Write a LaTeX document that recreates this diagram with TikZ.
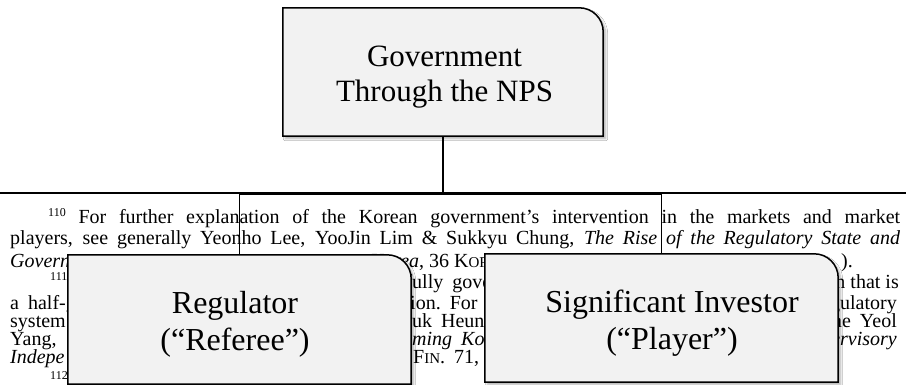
\documentclass[tikz,border=0pt]{standalone}
\usepackage{fontspec}
\setmainfont{Liberation Serif}
\usetikzlibrary{calc,shadows.blur}
\definecolor{boxgray}{RGB}{242,242,242}
\newcommand\fsc[1]{{\fontsize{15}{15}\selectfont #1}}
\newcommand\fnsup[1]{\raisebox{7pt}{\fontsize{12}{12}\selectfont #1}}
\newcommand\js{\hspace{9pt}}
\newcommand\drawcbox[1]{%
  \path[boxshape] (#1.south west) -- (#1.north west)
    -- ($(#1.north east)+(-24,0)$)
    .. controls ($(#1.north east)+(-10.7,0)$) and ($(#1.north east)+(0,10.7)$) .. ($(#1.north east)+(0,24)$)
    -- (#1.south east) -- cycle;}
\begin{document}
\begin{tikzpicture}[x=1pt,y=-1pt,
  fn/.style={inner sep=0pt, anchor=base west, font=\fontsize{20}{20}\selectfont},
  fnr/.style={fn, anchor=base east},
  fnsmall/.style={inner sep=0pt, anchor=base west, font=\fontsize{12}{12}\selectfont},
  boxnode/.style={inner sep=0pt, minimum width=#1},
  boxshape/.style={draw=black, line width=1.5pt, fill=boxgray,
    blur shadow={shadow xshift=2.5pt, shadow yshift=-2.5pt, shadow blur radius=2pt,
      shadow blur steps=6, shadow opacity=30}},
  boxtext/.style={inner sep=0pt, align=center, font=\fontsize{32}{37}\selectfont},
  thick line/.style={line width=2pt, draw=black},
  thin line/.style={line width=1.2pt, draw=black}]
\useasboundingbox (0,0) rectangle (906,385);
\fill[white] (0,0) rectangle (906,385);
% box frames (named, drawn later)
\node[boxnode=320pt, minimum height=128pt] (top) at (443,72) {};
\node[boxnode=343pt, minimum height=129pt] (reg) at (239.5,319.5) {};
\node[boxnode=353pt, minimum height=128pt] (inv) at (661.5,318) {};
\coordinate (ruleL) at (0,193);
\coordinate (ruleR) at (906,193);
% footnote text behind the chart
\node[fn] (l1) at (48,224) {\makebox[852pt][s]{\fnsup{110} For further explanation of the Korean government’s intervention in the markets and market}};
\node[fn] (l2) at (10,244) {\makebox[890pt][s]{players, see generally Yeonho Lee, YooJin Lim \& Sukkyu Chung, \textit{The Rise of the Regulatory State and}}};
\node[fn] (l3a) at (10,267) {\textit{Govern}};
\node[fn] (l3b) at (409,267) {\llap{\textit{Kore}}\textit{a}, 36 K\fsc{OR}};
\node[fnr] (l3c) at (853,267) {).};
\node[fnsmall] (l4a) at (50,280) {111};
\node[fn] (l4b) at (412,288) {\llap{f}ully\js gove};
\node[fnr] (l4c) at (899,288) {on that is};
\node[fn] (l5a) at (10,309) {a\js half-g};
\node[fn] (l5b) at (410,309) {\llap{at}ion.\js For\js t};
\node[fnr] (l5c) at (897,309) {egulatory};
\node[fn] (l6a) at (10,327) {system};
\node[fn] (l6b) at (412,327) {\llap{K}uk\js Heun};
\node[fnr] (l6c) at (897,327) {Jae\js Yeol};
\node[fn] (l7a) at (10,345) {Yang,};
\node[fn] (l7b) at (412,345) {\textit{\llap{for}ming\js Kor}};
\node[fnr] (l7c) at (897,345) {\textit{ervisory}};
\node[fn] (l8a) at (10,363) {\textit{Indepe}};
\node[fn] (l8b) at (413,363) {F\fsc{IN}.\js 71,};
\node[fnsmall] (l9a) at (50,379) {112};
% connectors
\draw[thick line] (ruleL) -- (ruleR);
\draw[thick line] (top.south) -- (top.south |- ruleL);
\draw[thin line] (reg.north) -- ++(0,-60.5) -| (inv.north);
% boxes
\drawcbox{top}
\drawcbox{reg}
\drawcbox{inv}
\node[boxtext, font=\fontsize{31}{34.5}\selectfont] (topT) at (444.5,77) {Government\\Through the NPS};
\node[boxtext] (regT) at (235,324) {Regulator\\(“Referee”)};
\node[boxtext] (invT) at (672,323) {Significant Investor\\(“Player”)};
\end{tikzpicture}
\end{document}
